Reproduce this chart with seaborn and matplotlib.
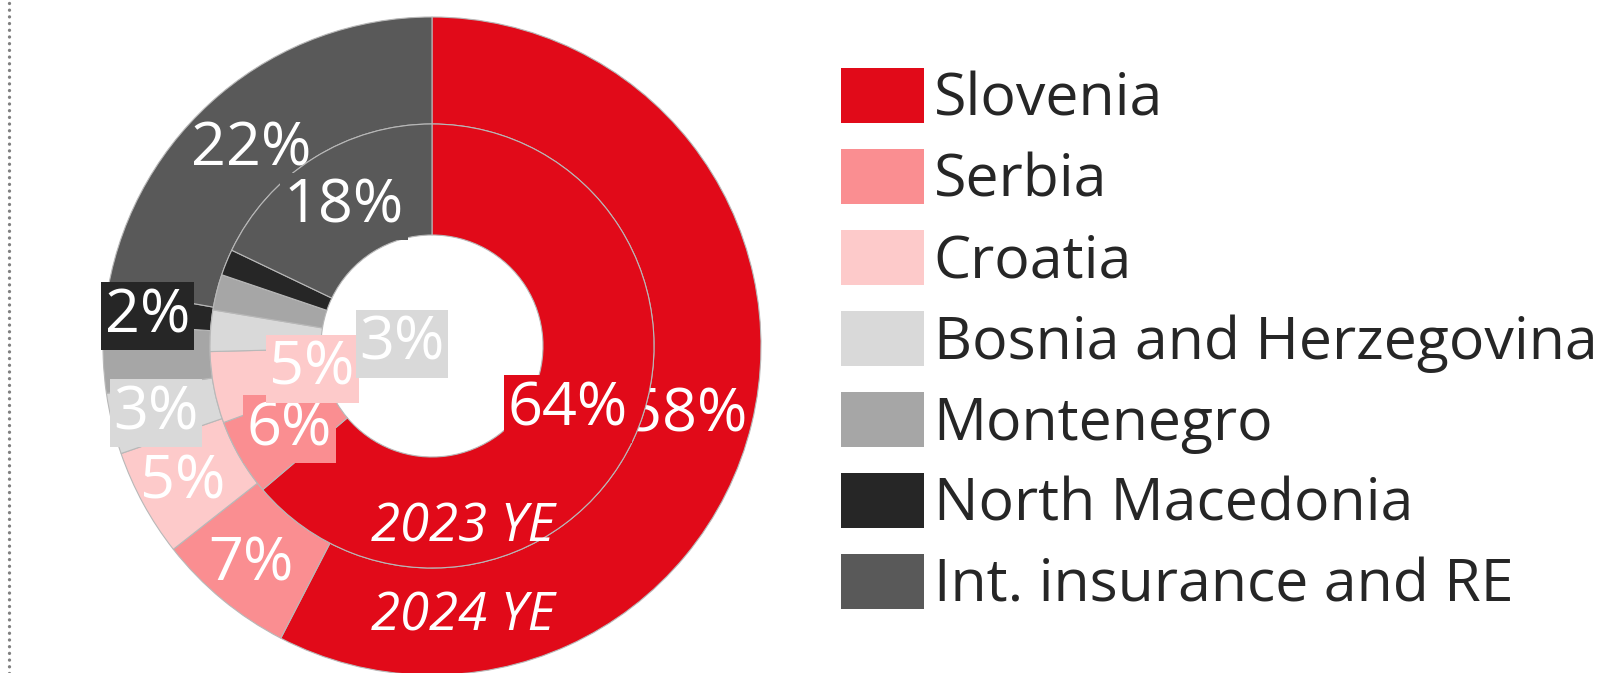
import numpy as np
import matplotlib
matplotlib.use('Agg')
import matplotlib.pyplot as plt
import seaborn as sns
from matplotlib.patches import Patch

# --- Data ---
regions = ['Slovenia', 'Serbia', 'Croatia', 'Bosnia and Herzegovina',
           'Montenegro', 'North Macedonia', 'Int. insurance and RE']
share_2024 = [57.6, 6.8, 5.3, 3.0, 3.4, 1.7, 22.2]   # outer ring
share_2023 = [63.8, 5.6, 5.2, 3.0, 2.6, 1.9, 17.9]   # inner ring
labels_2024 = ['58%', '7%', '5%', '3%', '', '2%', '22%']
labels_2023 = ['64%', '6%', '5%', '3%', '', '', '18%']
year_labels = ['2024 YE', '2023 YE']

colors = ['#E10A19', '#FA8E91', '#FDCACA', '#D9D9D9', '#A6A6A6', '#262626', '#595959']

# --- Style ---
sns.set_theme(style='white')
plt.rcParams['font.family'] = ['Open Sans', 'DejaVu Sans']
palette = sns.color_palette(colors)

W, H = 1604, 673
cx, cy = 432, 673 - 346
r_out, r_mid, r_hole = 329, 222, 111
edge = dict(edgecolor='#b8b8b8', linewidth=0.8)

fig = plt.figure(figsize=(W / 100, H / 100), dpi=100)
ax = fig.add_axes([0, 0, 1, 1])


def mid_angles(vals):
    vals = np.asarray(vals, dtype=float)
    frac = (np.cumsum(vals) - vals / 2) / vals.sum()
    return 90 - 360 * frac


def put_labels(vals, labels, radius, overrides, z, boxed=None):
    # overrides: index -> (radius, angle shift in degrees)
    for i, (ang, lab) in enumerate(zip(mid_angles(vals), labels)):
        if not lab:
            continue
        r, dth = overrides.get(i, (radius, 0))
        a = np.radians(ang + dth)
        box = None
        if boxed is None or i in boxed:
            box = dict(boxstyle='square,pad=0.06', fc=palette[i], ec='none')
        ax.text(cx + r * np.cos(a), cy + r * np.sin(a), lab, ha='center', va='center',
                color='white', fontsize=44, zorder=z, bbox=box)


# outer ring (2024) then its labels
ax.pie(share_2024, colors=palette, radius=r_out, center=(cx, cy), startangle=90,
       counterclock=False, wedgeprops=dict(width=r_out - r_mid, **edge))
put_labels(share_2024, labels_2024, 284,
           {0: (264, -1.5), 5: (286, 1), 6: (267, 2.6)}, z=3, boxed={3, 5})

# inner ring (2023) drawn above outer labels
inner, _ = ax.pie(share_2023, colors=palette, radius=r_mid, center=(cx, cy), startangle=90,
                  counterclock=False, wedgeprops=dict(width=r_mid - r_hole, **edge))
for w in inner:
    w.set_zorder(4)
put_labels(share_2023, labels_2023, 165, {0: (150, 0), 2: (122, 0), 3: (30, 0)}, z=5)

ax.text(cx + 31, cy - 271, year_labels[0], ha='center', va='center', color='white',
        fontsize=38, style='italic', zorder=6)
ax.text(cx + 31, cy - 182, year_labels[1], ha='center', va='center', color='white',
        fontsize=38, style='italic', zorder=6)

# dotted separator on the left
ax.axvline(9, color='#808080', lw=2.4, linestyle=(0, (0.01, 2.0)),
           dash_capstyle='round', zorder=1)

ax.set_xlim(0, W)
ax.set_ylim(0, H)
ax.set_aspect('equal')
ax.axis('off')

handles = [Patch(facecolor=c, edgecolor='none') for c in palette]
fig.legend(handles, regions, loc='upper left', bbox_to_anchor=(841 / W, 1 - 68 / H),
           frameon=False, fontsize=42.5, handlelength=1.41, handleheight=1.05,
           labelspacing=0.33, handletextpad=0.16, borderpad=0, borderaxespad=0,
           labelcolor='#262626')

fig.savefig('out.png', dpi=100)
